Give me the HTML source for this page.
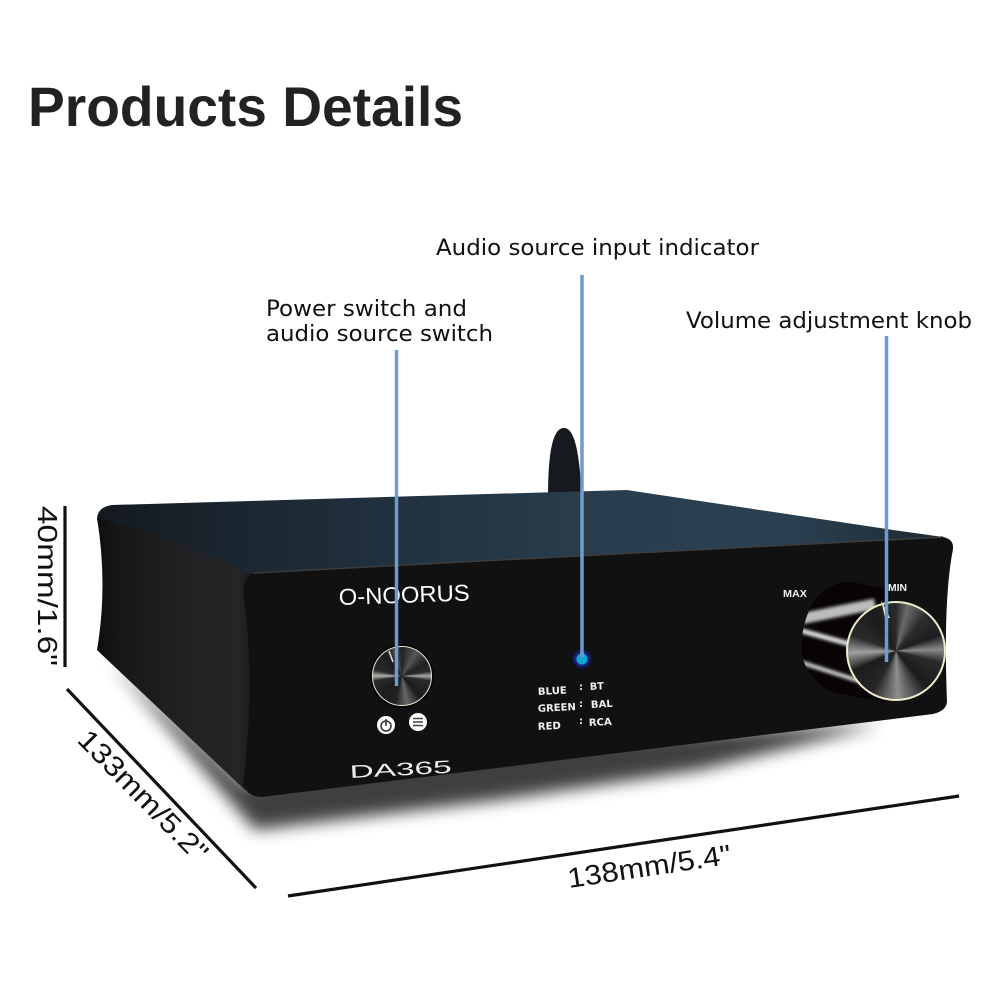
<!DOCTYPE html>
<html><head><meta charset="utf-8"><style>
html,body{margin:0;padding:0;background:#fff}
svg{display:block}
text{font-family:"Liberation Sans",sans-serif}
.lb{font-family:"DejaVu Sans",sans-serif}
.kn{width:100%;height:100%;border-radius:50%;box-sizing:border-box}
</style></head><body>
<svg width="1000" height="1000" viewBox="0 0 1000 1000" xmlns="http://www.w3.org/2000/svg">
<defs>
<filter id="b12" x="-30%" y="-60%" width="160%" height="220%"><feGaussianBlur stdDeviation="8"/></filter>
<filter id="b3" x="-60%" y="-60%" width="220%" height="220%"><feGaussianBlur stdDeviation="1.500"/></filter>
<filter id="b1" x="-20%" y="-50%" width="140%" height="200%"><feGaussianBlur stdDeviation="1.500"/></filter>
<linearGradient id="top" x1="0" y1="0" x2="1" y2="0"><stop offset="0" stop-color="#14191f"/><stop offset=".2" stop-color="#1c2934"/><stop offset=".55" stop-color="#283c4c"/><stop offset=".8" stop-color="#2b4152"/><stop offset="1" stop-color="#1c2832"/></linearGradient>
<linearGradient id="side" x1="0" y1="0" x2="1" y2="0"><stop offset="0" stop-color="#0e0e0f"/><stop offset=".15" stop-color="#171718"/><stop offset=".6" stop-color="#232325"/><stop offset=".85" stop-color="#252527"/><stop offset="1" stop-color="#151516"/></linearGradient>
<clipPath id="cyl"><path d="M852 582 Q826 582 813 603 Q800 625 802 655 Q808 682 835 693 L885 702 L890 590Z"/></clipPath>
</defs>
<rect width="1000" height="1000" fill="#fff"/>

<text x="28" y="126" font-size="56" font-weight="bold" fill="#222" textLength="435" lengthAdjust="spacingAndGlyphs">Products Details</text>
<g class="lb" font-size="22" fill="#111">
<text class="lb" x="436" y="255" textLength="323" lengthAdjust="spacingAndGlyphs">Audio source input indicator</text>
<text class="lb" x="266" y="316" textLength="201" lengthAdjust="spacingAndGlyphs">Power switch and</text>
<text class="lb" x="266" y="341" textLength="227" lengthAdjust="spacingAndGlyphs">audio source switch</text>
<text class="lb" x="686" y="328" textLength="286" lengthAdjust="spacingAndGlyphs">Volume adjustment knob</text>
</g>

<!-- shadow -->
<path d="M110 660 L255 830 L500 800 L700 770 L880 725 L500 740 L245 785 Z" fill="#000" opacity=".75" filter="url(#b12)"/>

<!-- antenna -->
<path d="M548 500 C548 465 550 428 564 428 C577 428 580 465 582 500 Z" fill="#16191d"/>

<!-- top panel -->
<path d="M97 520 Q97 507 112 505 L627 490 L893 530 L943 537 Q953 541 953 548 L500 570 L247 590 Z" fill="url(#top)"/>
<!-- left side -->
<path d="M97 518 Q170 535 250 574 L262 790 L245 790 L97 650 Q108 585 97 518 Z" fill="url(#side)"/>
<!-- front -->
<path d="M253 573 L500 560 L733 548 L943 537 Q954 539 953 549 Q943 600 947 702 Q946 711 933 714 L262 797 Q248 797 243 785 Q256 680 243 592 Q243 578 253 573 Z" fill="#111112"/>
<path d="M253 573 L500 560 L733 548 L943 537" fill="none" stroke="#3d3d3d" stroke-width="1.500"/>

<!-- logo -->
<text x="339" y="605" font-size="23" fill="#fff" textLength="131" lengthAdjust="spacingAndGlyphs" transform="rotate(-2 339 605)">O-NOORUS</text>

<!-- small knob -->
<circle cx="402" cy="676" r="32" fill="#050505"/>
<foreignObject x="372" y="646" width="60" height="60"><div xmlns="http://www.w3.org/1999/xhtml" class="kn" style="border:1.800px solid #e8e6d0;background:conic-gradient(#222 0deg,#555 30deg,#222 60deg,#2a2a2a 80deg,#aaa 90deg,#2a2a2a 100deg,#1c1c1c 140deg,#666 170deg,#222 195deg,#1c1c1c 230deg,#2a2a2a 260deg,#b5b5b5 270deg,#2a2a2a 282deg,#1c1c1c 320deg,#444 345deg,#222 360deg)"></div></foreignObject>
<line x1="389" y1="651" x2="393" y2="662" stroke="#ddd" stroke-width="1.500"/>
<!-- buttons -->
<circle cx="386" cy="725" r="9" fill="#fff"/>
<circle cx="386" cy="726" r="5" fill="none" stroke="#333" stroke-width="1.500"/>
<line x1="386" y1="719" x2="386" y2="726" stroke="#333" stroke-width="1.500"/>
<circle cx="418" cy="722" r="9" fill="#fff"/>
<path d="M413 718.500H423M413 722H423M413 725.500H423" stroke="#444" stroke-width="1.500"/>

<!-- model -->
<text x="350" y="778" font-size="18" fill="#eee" textLength="102" lengthAdjust="spacingAndGlyphs" transform="rotate(-3 350 778)">DA365</text>

<!-- LED -->
<circle cx="582" cy="659" r="8" fill="#1a2aa8" filter="url(#b3)"/>
<circle cx="582" cy="659" r="5.500" fill="#10a8c8"/>

<!-- led legend -->
<g font-size="10" font-weight="bold" fill="#f0f0f0">
<text class="lb" x="538" y="695" transform="rotate(-3 538 695)" textLength="29" lengthAdjust="spacingAndGlyphs">BLUE</text>
<text class="lb" x="538" y="712" transform="rotate(-3 538 712)" textLength="38" lengthAdjust="spacingAndGlyphs">GREEN</text>
<text class="lb" x="538" y="730" transform="rotate(-3 538 730)" textLength="23" lengthAdjust="spacingAndGlyphs">RED</text>
<text class="lb" x="579" y="690">:</text><text class="lb" x="579" y="707">:</text><text class="lb" x="579" y="724">:</text>
<text class="lb" x="590" y="690" transform="rotate(-3 590 690)" textLength="14" lengthAdjust="spacingAndGlyphs">BT</text>
<text class="lb" x="591" y="708" transform="rotate(-3 591 708)" textLength="22" lengthAdjust="spacingAndGlyphs">BAL</text>
<text class="lb" x="589" y="726" transform="rotate(-3 589 726)" textLength="23" lengthAdjust="spacingAndGlyphs">RCA</text>
</g>

<!-- big knob cylinder -->
<path d="M852 582 Q826 582 813 603 Q800 625 802 655 Q808 682 835 693 L885 702 L890 590Z" fill="#080405"/>
<g clip-path="url(#cyl)">
<g filter="url(#b1)" fill="none">
<path d="M795 620 L875 604" stroke="#bdbdbd" stroke-width="11"/>
<path d="M795 629 L875 651" stroke="#e4e4e4" stroke-width="5"/>
<path d="M800 662 L875 686" stroke="#dcdcdc" stroke-width="4"/>
</g>
</g>
<!-- big knob face -->
<foreignObject x="846" y="601" width="100" height="100"><div xmlns="http://www.w3.org/1999/xhtml" class="kn" style="border:2.400px solid #efeccc;background:conic-gradient(#2a2a2c 0deg,#6a6a6a 15deg,#2c2c2e 40deg,#1e1e20 70deg,#8a8a8a 88deg,#2a2a2c 105deg,#1c1c1e 140deg,#8e8e8e 178deg,#252527 210deg,#1c1c1e 245deg,#a0a0a0 268deg,#2a2a2c 290deg,#1c1c1e 330deg,#2a2a2c 360deg)"></div></foreignObject>
<path d="M881 600 L890 618 L885 618Z" fill="#e8e6c8"/>
<text x="783" y="597" font-size="10.500" font-weight="bold" fill="#eee" textLength="24" lengthAdjust="spacingAndGlyphs">MAX</text>
<text x="888" y="591" font-size="10.500" font-weight="bold" fill="#eee" textLength="19" lengthAdjust="spacingAndGlyphs">MIN</text>

<!-- callout lines -->
<g stroke="#6f9bd0" stroke-width="3.500" fill="none">
<line x1="396.500" y1="350" x2="396.500" y2="686"/>
<line x1="582" y1="275" x2="582" y2="657"/>
<line x1="886.500" y1="336" x2="886.500" y2="662"/>
</g>

<!-- dimension lines -->
<g stroke="#111" stroke-width="3.200" fill="none">
<line x1="65" y1="506" x2="65" y2="667"/>
<line x1="67" y1="689" x2="256" y2="888"/>
<line x1="288" y1="896" x2="959" y2="796"/>
</g>
<g font-size="28" fill="#111">
<text transform="translate(38 506) rotate(90)" textLength="160" lengthAdjust="spacingAndGlyphs">40mm/1.6"</text>
<text transform="translate(76 741) rotate(45.500)" textLength="172" lengthAdjust="spacingAndGlyphs">133mm/5.2"</text>
<text transform="translate(569 888) rotate(-8.500)" textLength="165" lengthAdjust="spacingAndGlyphs">138mm/5.4"</text>
</g>
</svg>
</body></html>
